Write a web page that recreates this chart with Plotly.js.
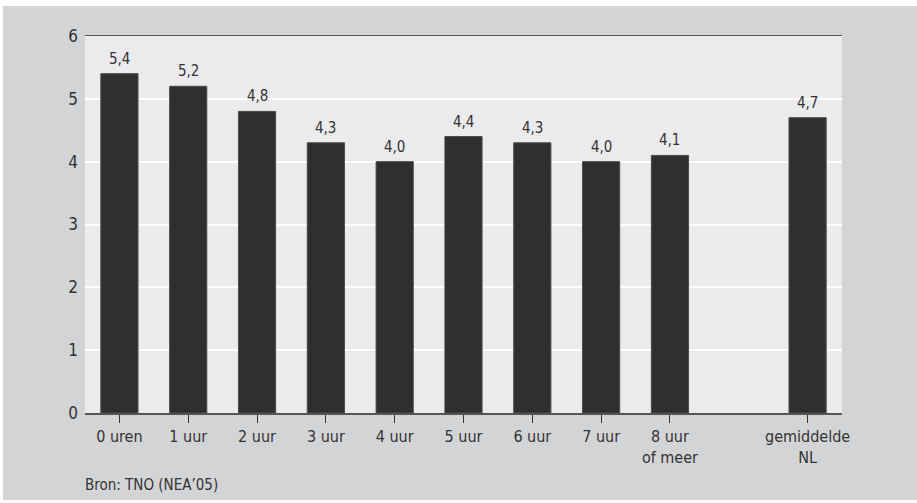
<!DOCTYPE html>
<html>
<head>
<meta charset="utf-8">
<script src="https://cdn.plot.ly/plotly-3.0.1.min.js"></script>
<style>html,body{margin:0;padding:0;background:#fff;}#chart{width:917px;height:503px;}</style>
</head>
<body>
<div id="chart"></div>
<script>
var categories = ['0 uren', '1 uur', '2 uur', '3 uur', '4 uur', '5 uur', '6 uur', '7 uur', '8 uur<br>of meer', 'gemiddelde<br>NL'];
var values = [5.4, 5.2, 4.8, 4.3, 4.0, 4.4, 4.3, 4.0, 4.1, 4.7];
var spacerCategory = ' ';
var yTicks = [0, 1, 2, 3, 4, 5, 6];
var sourceNote = 'Bron: TNO (NEA\u201905)';

var axisOrder = categories.slice(0, categories.length - 1).concat([spacerCategory, categories[categories.length - 1]]);
var FONT = 'Liberation Sans Narrow, DejaVu Sans Condensed, Arial Narrow, sans-serif';
var TXT = '#333333';

var plotH = 377, plotW = 757, ml = 85, mt = 36;
function px(x) { return (x - ml) / plotW; }
function py(y) { return (mt + plotH - y) / plotH; }

var trace = {
  type: 'bar',
  x: categories,
  y: values,
  marker: {color: '#302e2f', line: {color: '#4a4a4a', width: 1}},
  hoverinfo: 'skip'
};

var valueLabels = categories.map(function (c, i) {
  return {
    xref: 'x', yref: 'y', x: c, y: values[i],
    text: values[i].toFixed(1).replace('.', ','),
    showarrow: false, yanchor: 'bottom', yshift: 4,
    font: {family: FONT, size: 15, color: TXT}
  };
});

var layout = {
  width: 917, height: 503,
  margin: {l: ml, r: 917 - ml - plotW, t: mt, b: 503 - mt - plotH},
  paper_bgcolor: '#ffffff',
  plot_bgcolor: 'rgba(0,0,0,0)',
  separators: ',.',
  bargap: 0.46,
  showlegend: false,
  font: {family: FONT, size: 16, color: TXT},
  xaxis: {
    type: 'category',
    categoryorder: 'array',
    categoryarray: axisOrder,
    range: [-0.5, axisOrder.length - 0.5],
    tickmode: 'array',
    tickvals: categories,
    ticktext: categories,
    ticks: 'outside', ticklen: 8, tickcolor: '#333', tickwidth: 1,
    showline: true, mirror: true, linecolor: '#555', linewidth: 1.5,
    showgrid: false, zeroline: false,
    tickfont: {family: FONT, size: 16, color: TXT}
  },
  yaxis: {
    range: [0, 6],
    tickmode: 'array', tickvals: yTicks,
    showgrid: true, gridcolor: '#ffffff', gridwidth: 2,
    zeroline: false, showline: false, ticks: '',
    ticklabelstandoff: 6,
    tickfont: {family: FONT, size: 17, color: TXT}
  },
  shapes: [
    {type: 'rect', xref: 'paper', yref: 'paper', layer: 'below',
     x0: px(3), x1: px(917), y0: py(500), y1: py(6),
     fillcolor: '#d3d4d6', line: {width: 0}},
    {type: 'rect', xref: 'paper', yref: 'paper', layer: 'below',
     x0: 0, x1: 1, y0: 0, y1: 1,
     fillcolor: '#ebebed', line: {width: 0}}
  ],
  annotations: valueLabels.concat([
    {text: sourceNote, xref: 'paper', yref: 'paper', x: px(83), y: py(485),
     xanchor: 'left', yanchor: 'middle', showarrow: false,
     font: {family: FONT, size: 15, color: TXT}}
  ])
};

Plotly.newPlot('chart', [trace], layout, {staticPlot: true, displayModeBar: false});
</script>
</body>
</html>
